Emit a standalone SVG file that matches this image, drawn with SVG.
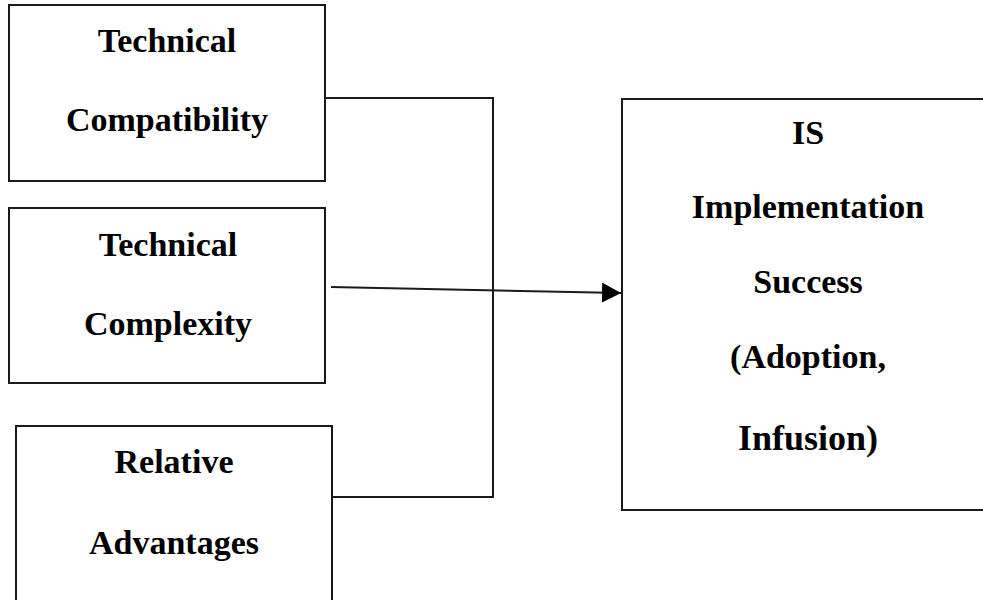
<svg xmlns="http://www.w3.org/2000/svg" width="983" height="600" viewBox="0 0 983 600">
  <defs>
    <style>
      .box { fill: #ffffff; stroke: #1a1a1a; stroke-width: 2; }
      .wire { fill: none; stroke: #1a1a1a; stroke-width: 2; }
      .label { font-family: "Liberation Serif", "Times New Roman", serif; font-weight: bold; font-size: 34px; fill: #000000; text-anchor: middle; }
      .big { font-size: 36px; }
    </style>
    <marker id="arrowhead" markerUnits="userSpaceOnUse" markerWidth="20" markerHeight="20" refX="19" refY="10" orient="auto">
      <path d="M0,0 L19,10 L0,20 Z" fill="#000000"/>
    </marker>
  </defs>
  <rect width="983" height="600" fill="#ffffff"/>

  <g id="connectors">
    <!-- bracket joining the three factor boxes -->
    <polyline class="wire" points="325,98 493,98 493,497 332,497"/>
    <!-- influence arrow into the outcome box -->
    <line class="wire" x1="331" y1="287" x2="621" y2="293" marker-end="url(#arrowhead)"/>
  </g>

  <g id="technical-compatibility">
    <rect class="box" x="9" y="5" width="316" height="176"/>
    <text class="label" x="167" y="52">Technical</text>
    <text class="label" x="167" y="131">Compatibility</text>
  </g>

  <g id="technical-complexity">
    <rect class="box" x="9" y="208" width="316" height="175"/>
    <text class="label" x="168" y="256">Technical</text>
    <text class="label" x="168" y="335">Complexity</text>
  </g>

  <g id="relative-advantages">
    <rect class="box" x="16" y="426" width="316" height="190"/>
    <text class="label" x="174" y="473">Relative</text>
    <text class="label" x="174" y="554">Advantages</text>
  </g>

  <g id="is-implementation-success">
    <rect class="box" x="622" y="99" width="380" height="411"/>
    <text class="label" x="808" y="144">IS</text>
    <text class="label" x="808" y="218">Implementation</text>
    <text class="label" x="808" y="293">Success</text>
    <text class="label" x="808" y="368">(Adoption,</text>
    <text class="label big" x="808" y="450">Infusion)</text>
  </g>
</svg>
